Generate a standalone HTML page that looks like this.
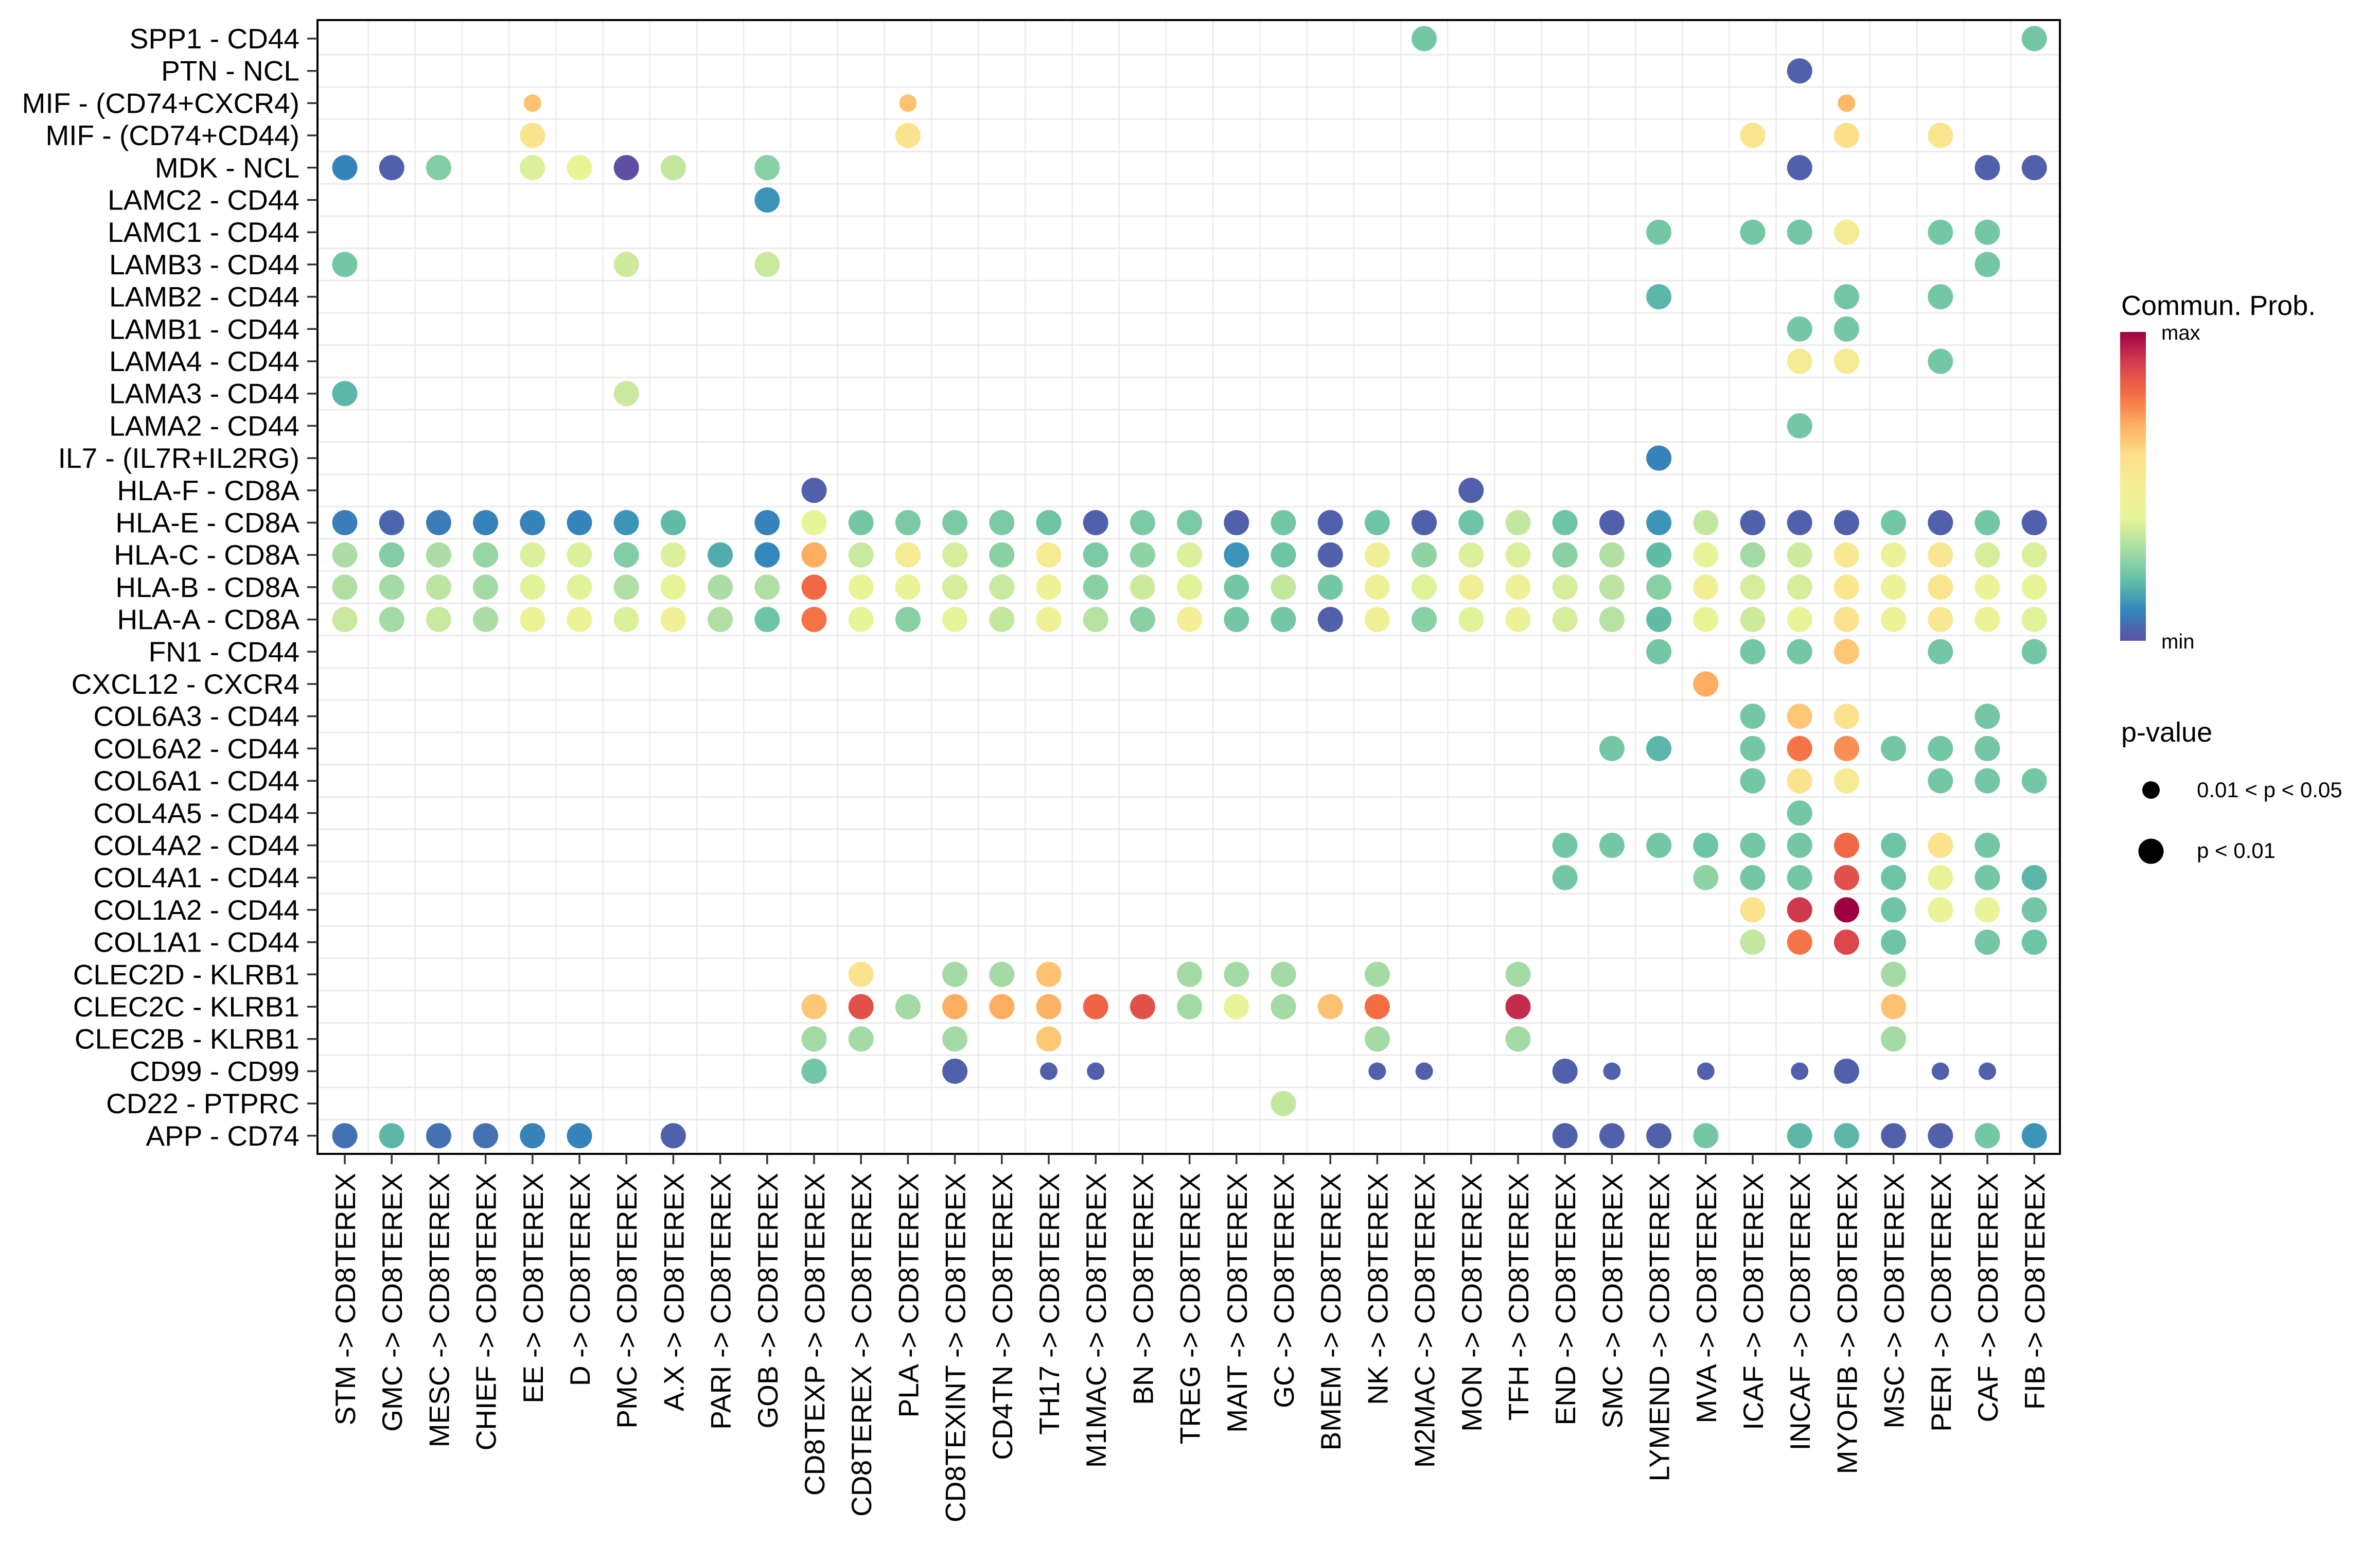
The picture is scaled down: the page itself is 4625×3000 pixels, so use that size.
<!DOCTYPE html>
<html><head><meta charset="utf-8"><style>
html,body{margin:0;padding:0;background:#fff;}
svg{display:block;font-family:"Liberation Sans",sans-serif;}
</style></head><body>
<svg id="chart" width="4625" height="3000" viewBox="0 0 4625 3000" xmlns="http://www.w3.org/2000/svg">
<defs>
<linearGradient id="cbgrad" x1="0" y1="1" x2="0" y2="0">
<stop offset="0" stop-color="#5E4FA2"/><stop offset="0.1" stop-color="#3288BD"/><stop offset="0.2" stop-color="#66C2A5"/><stop offset="0.3" stop-color="#ABDDA4"/><stop offset="0.4" stop-color="#E6F598"/><stop offset="0.5" stop-color="#F4EE95"/><stop offset="0.6" stop-color="#FCE08A"/><stop offset="0.7" stop-color="#FDAE61"/><stop offset="0.8" stop-color="#F46D43"/><stop offset="0.9" stop-color="#D53E4F"/><stop offset="1" stop-color="#9E0142"/>
</linearGradient>
</defs>
<g id="grid"></g>
<g id="dots"></g>
<rect x="617" y="39" width="3386" height="2203" fill="none" stroke="#000" stroke-width="4"/>
<g id="ylabels"></g>
<g id="xlabels"></g>
<g>
<text x="4122" y="612" font-size="54">Commun. Prob.</text>
<rect x="4120" y="645" width="50" height="600" fill="url(#cbgrad)"/>
<text x="4200" y="660" font-size="40">max</text>
<text x="4200" y="1260" font-size="40">min</text>
</g>
<g>
<text x="4122" y="1441" font-size="54">p-value</text>
<circle cx="4180" cy="1535" r="17" fill="#000"/>
<text x="4269" y="1549" font-size="42">0.01 &lt; p &lt; 0.05</text>
<circle cx="4180" cy="1654" r="24.5" fill="#000"/>
<text x="4269" y="1667" font-size="42">p &lt; 0.01</text>
</g>
</svg>
<script>
const rowLabels = ["SPP1 - CD44","PTN - NCL","MIF - (CD74+CXCR4)","MIF - (CD74+CD44)","MDK - NCL","LAMC2 - CD44","LAMC1 - CD44","LAMB3 - CD44","LAMB2 - CD44","LAMB1 - CD44","LAMA4 - CD44","LAMA3 - CD44","LAMA2 - CD44","IL7 - (IL7R+IL2RG)","HLA-F - CD8A","HLA-E - CD8A","HLA-C - CD8A","HLA-B - CD8A","HLA-A - CD8A","FN1 - CD44","CXCL12 - CXCR4","COL6A3 - CD44","COL6A2 - CD44","COL6A1 - CD44","COL4A5 - CD44","COL4A2 - CD44","COL4A1 - CD44","COL1A2 - CD44","COL1A1 - CD44","CLEC2D - KLRB1","CLEC2C - KLRB1","CLEC2B - KLRB1","CD99 - CD99","CD22 - PTPRC","APP - CD74"];
const sources = ["STM","GMC","MESC","CHIEF","EE","D","PMC","A.X","PARI","GOB","CD8TEXP","CD8TEREX","PLA","CD8TEXINT","CD4TN","TH17","M1MAC","BN","TREG","MAIT","GC","BMEM","NK","M2MAC","MON","TFH","END","SMC","LYMEND","MVA","ICAF","INCAF","MYOFIB","MSC","PERI","CAF","FIB"];
const target = "CD8TEREX";
const dotRow = [];
const dotCol = [];
const dotProb = [];
const dotPval = [];
const rowData = [
"23:0.22 36:0.22",
"31:0.03",
"4:0.66:s 12:0.66:s 32:0.68:s",
"4:0.58 12:0.58 30:0.57 32:0.6 34:0.57",
"0:0.09 1:0.03 2:0.24 4:0.38 5:0.42 6:0.0 7:0.34 9:0.25 31:0.03 35:0.03 36:0.03",
"9:0.12",
"28:0.22 30:0.22 31:0.22 32:0.52 34:0.22 35:0.22",
"0:0.22 6:0.36 9:0.35 35:0.22",
"28:0.18 32:0.22 34:0.22",
"31:0.22 32:0.22",
"31:0.52 32:0.52 34:0.22",
"0:0.18 6:0.35",
"31:0.22",
"28:0.09",
"10:0.03 24:0.03",
"0:0.08 1:0.04 2:0.08 3:0.09 4:0.09 5:0.09 6:0.12 7:0.19 9:0.09 10:0.40 11:0.22 12:0.23 13:0.23 14:0.23 15:0.21 16:0.03 17:0.23 18:0.23 19:0.03 20:0.22 21:0.03 22:0.21 23:0.03 24:0.21 25:0.34 26:0.21 27:0.03 28:0.12 29:0.34 30:0.03 31:0.03 32:0.03 33:0.22 34:0.03 35:0.22 36:0.03",
"0:0.30 1:0.24 2:0.30 3:0.27 4:0.38 5:0.38 6:0.24 7:0.38 8:0.16 9:0.10 10:0.70 11:0.35 12:0.53 13:0.37 14:0.25 15:0.53 16:0.23 17:0.26 18:0.38 19:0.12 20:0.21 21:0.03 22:0.48 23:0.26 24:0.38 25:0.38 26:0.25 27:0.31 28:0.19 29:0.41 30:0.29 31:0.36 32:0.54 33:0.44 34:0.55 35:0.37 36:0.38",
"0:0.31 1:0.29 2:0.33 3:0.29 4:0.39 5:0.39 6:0.31 7:0.41 8:0.30 9:0.31 10:0.81 11:0.42 12:0.43 13:0.37 14:0.35 15:0.47 16:0.25 17:0.36 18:0.39 19:0.22 20:0.34 21:0.22 22:0.46 23:0.39 24:0.48 25:0.47 26:0.37 27:0.33 28:0.25 29:0.48 30:0.37 31:0.37 32:0.56 33:0.45 34:0.57 35:0.43 36:0.41",
"0:0.35 1:0.29 2:0.35 3:0.30 4:0.45 5:0.45 6:0.38 7:0.47 8:0.31 9:0.21 10:0.79 11:0.40 12:0.25 13:0.40 14:0.34 15:0.47 16:0.32 17:0.25 18:0.50 19:0.22 20:0.22 21:0.03 22:0.47 23:0.25 24:0.39 25:0.45 26:0.37 27:0.32 28:0.19 29:0.42 30:0.36 31:0.41 32:0.58 33:0.45 34:0.54 35:0.45 36:0.39",
"28:0.22 30:0.22 31:0.22 32:0.65 34:0.22 36:0.22",
"29:0.70",
"30:0.22 31:0.65 32:0.58 35:0.22",
"27:0.22 28:0.18 30:0.22 31:0.79 32:0.75 33:0.22 34:0.22 35:0.22",
"30:0.22 31:0.58 32:0.52 34:0.22 35:0.22 36:0.22",
"31:0.22",
"26:0.22 27:0.22 28:0.22 29:0.21 30:0.22 31:0.22 32:0.81 33:0.21 34:0.58 35:0.22",
"26:0.22 29:0.26 30:0.22 31:0.22 32:0.86 33:0.21 34:0.43 35:0.22 36:0.18",
"30:0.58 31:0.91 32:1.0 33:0.21 34:0.43 35:0.43 36:0.22",
"30:0.34 31:0.79 32:0.88 33:0.21 35:0.22 36:0.21",
"11:0.58 13:0.29 14:0.29 15:0.66 18:0.29 19:0.29 20:0.29 22:0.29 25:0.29 33:0.29",
"10:0.65 11:0.86 12:0.29 13:0.70 14:0.70 15:0.69 16:0.82 17:0.86 18:0.29 19:0.41 20:0.29 21:0.66 22:0.80 25:0.93 33:0.66",
"10:0.29 11:0.29 13:0.29 15:0.65 22:0.29 25:0.29 33:0.29",
"10:0.22 13:0.03 15:0.03:s 16:0.03:s 22:0.03:s 23:0.03:s 26:0.03 27:0.03:s 29:0.03:s 31:0.03:s 32:0.03 34:0.03:s 35:0.03:s",
"20:0.34",
"0:0.06 1:0.18 2:0.06 3:0.06 4:0.09 5:0.09 7:0.03 26:0.03 27:0.03 28:0.03 29:0.22 31:0.18 32:0.18 33:0.03 34:0.03 35:0.22 36:0.12"
];
rowData.forEach((s, r) => {
  s.split(" ").forEach(tok => {
    const p = tok.split(":");
    dotRow.push(r); dotCol.push(+p[0]); dotProb.push(+p[1]); dotPval.push(p[2] === "s" ? 0 : 1);
  });
});

const NS = "http://www.w3.org/2000/svg";
const x0 = 670, dx = 91.2, y0 = 75, dy = 62.7;
const panelL = 617, panelR = 4003, panelT = 39, panelB = 2242;
const xScale = i => x0 + dx * i;
const yScale = r => y0 + dy * r;
const sizeScale = pv => pv ? 24.5 : 17;
const pal = ["#5E4FA2","#3288BD","#66C2A5","#ABDDA4","#E6F598","#F4EE95","#FCE08A","#FDAE61","#F46D43","#D53E4F","#9E0142"];
function hex(c){return [1,3,5].map(k=>parseInt(c.substr(k,2),16));}
function colorScale(v){
  v = Math.max(0, Math.min(1, v)) * (pal.length - 1);
  const i = Math.min(pal.length - 2, Math.floor(v)), t = v - i;
  const a = hex(pal[i]), b = hex(pal[i+1]);
  return "rgb(" + a.map((q,k)=>Math.round(q + (b[k]-q)*t)).join(",") + ")";
}
function mk(tag, attrs, parent){
  const el = document.createElementNS(NS, tag);
  for (const k in attrs) el.setAttribute(k, attrs[k]);
  parent.appendChild(el);
  return el;
}
const grid = document.getElementById("grid");
for (let i = 0; i < sources.length - 1; i++) {
  const gx = xScale(i + 0.5);
  const l = mk("line", {x1: gx, x2: gx, y1: panelT, y2: panelB, stroke: "#EBEBEB", "stroke-width": 2.5}, grid);
  
  
}
for (let r = 0; r < rowLabels.length - 1; r++) {
  const gy = yScale(r + 0.5);
  const l = mk("line", {x1: panelL, x2: panelR, y1: gy, y2: gy, stroke: "#EBEBEB", "stroke-width": 3}, grid);
  
  
}
const dots = document.getElementById("dots");
for (let k = 0; k < dotRow.length; k++) {
  const c = mk("circle", {cx: xScale(dotCol[k]), cy: yScale(dotRow[k]), r: sizeScale(dotPval[k]), fill: colorScale(dotProb[k])}, dots);
  
  
}
const yl = document.getElementById("ylabels");
rowLabels.forEach((lab, r) => {
  const y = yScale(r);
  const t = mk("line", {x1: 597, x2: panelL, y1: y, y2: y, stroke: "#333", "stroke-width": 3.5}, yl);
  
  
  const tx = mk("text", {x: 582, y: y + 19, "text-anchor": "end", "font-size": 55}, yl);
  tx.textContent = lab;
  
  
});
const xl = document.getElementById("xlabels");
sources.forEach((src, i) => {
  const x = xScale(i);
  const t = mk("line", {x1: x, x2: x, y1: panelB, y2: panelB + 20, stroke: "#333", "stroke-width": 3.5}, xl);
  
  
  const tx = mk("text", {transform: "translate(" + (x + 20) + ",2279) rotate(-90)", "text-anchor": "end", "font-size": 55}, xl);
  tx.textContent = src + " -> " + target;
  
  
});
</script>
</body></html>
